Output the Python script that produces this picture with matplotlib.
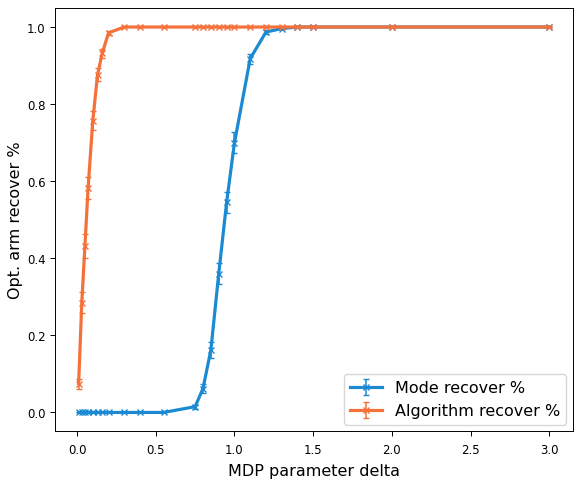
import matplotlib
matplotlib.use("Agg")
import matplotlib.pyplot as plt
import numpy as np

# delta values (shared by both series)
delta = [0.01, 0.03, 0.05, 0.07, 0.1, 0.13, 0.16, 0.2, 0.3, 0.4, 0.55,
         0.75, 0.8, 0.85, 0.9, 0.95, 1.0, 1.1, 1.2, 1.3, 1.4, 1.5, 2.0, 3.0]

mode_mean = [0.0, 0.0, 0.0, 0.0, 0.0, 0.0, 0.0, 0.0, 0.0, 0.0, 0.0,
             0.015, 0.062, 0.162, 0.36, 0.545, 0.70, 0.918, 0.987, 0.996, 1.0, 1.0, 1.0, 1.0]
mode_err = [0, 0, 0, 0, 0, 0, 0, 0, 0, 0, 0,
            0.005, 0.012, 0.02, 0.028, 0.028, 0.028, 0.013, 0.004, 0.002, 0, 0, 0, 0]

algo_mean = [0.075, 0.285, 0.432, 0.582, 0.757, 0.876, 0.932, 0.985, 1.0, 1.0, 1.0,
             1.0, 1.0, 1.0, 1.0, 1.0, 1.0, 1.0, 1.0, 1.0, 1.0, 1.0, 1.0, 1.0]
algo_err = [0.013, 0.027, 0.03, 0.028, 0.024, 0.017, 0.012, 0.005, 0, 0, 0,
            0, 0, 0, 0, 0, 0, 0, 0, 0, 0, 0, 0, 0]


def main():
    fig, ax = plt.subplots(figsize=(5.74, 4.81), dpi=100)
    fig.subplots_adjust(left=0.096, right=0.998, top=0.981, bottom=0.102)

    ax.errorbar(delta, mode_mean, yerr=mode_err, color='#1c8ad2', lw=2.3,
                marker='x', ms=4, mew=1, capsize=2.5, elinewidth=1.1,
                label='Mode recover %')
    ax.errorbar(delta, algo_mean, yerr=algo_err, color='#f4713a', lw=2.3,
                marker='x', ms=4, mew=1, capsize=2.5, elinewidth=1.1,
                label='Algorithm recover %')

    ax.set_ylim(-0.048, 1.049)
    ax.set_xlabel('MDP parameter delta', fontsize=11.5, labelpad=5)
    ax.set_ylabel('Opt. arm recover %', fontsize=11.5, labelpad=3)
    ax.tick_params(labelsize=8.5, length=3.5, width=0.7)
    ax.tick_params(axis='x', pad=5)
    for s in ax.spines.values():
        s.set_linewidth(0.7)
    ax.legend(loc='lower right', fontsize=11.5, borderaxespad=0.4)

    fig.savefig('out.png')


if __name__ == "__main__":
    main()
